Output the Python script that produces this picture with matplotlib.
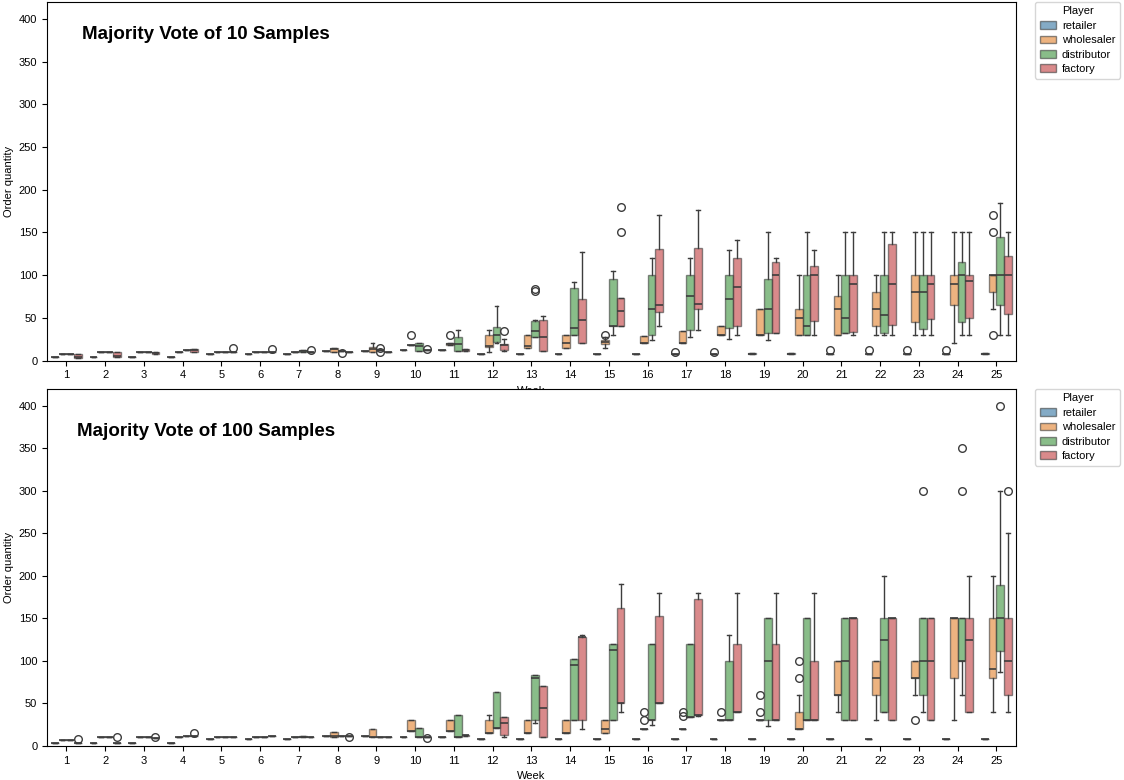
import matplotlib.pyplot as plt
from matplotlib.patches import Patch

plt.rcParams['font.family'] = ['Liberation Sans', 'DejaVu Sans']

weeks = list(range(1, 26))
players = ['retailer', 'wholesaler', 'distributor', 'factory']
colors = ['#3274a1', '#e1812c', '#3a923a', '#c03d3e']
titles = ['Majority Vote of 10 Samples', 'Majority Vote of 100 Samples']

# box stats per week: single value, or (low whisker, q1, median, q3, high whisker)
top_retailer = [4, 4, 4, 4, 8, 8, 8, 11, 11, 12, 12, 8, 8, 8, 8, 8, 8, 8,
                (8, 8, 8, 9, 9), (8, 8, 8, 9, 9), 8, 8, 8, 8, (8, 8, 8, 9, 9)]
top_wholesaler = [8, 10, 10, 10, 10, 10, 10,
                  (10, 10.5, 13, 15, 15), (10, 10.5, 13, 16, 20), 18,
                  (18, 18, 19, 20, 20), (10, 16, 17, 30, 36), (15, 15, 17, 30, 30),
                  (15, 15, 20, 30, 30), (15, 19, 21.5, 24, 27), (20, 20, 20, 29, 29),
                  (20, 20, 20, 34, 34), (30, 30, 30, 40, 40), (30, 30, 30, 60, 60),
                  (30, 30, 50, 60, 100), (30, 30, 60, 75, 100), (30, 40, 60, 80, 100),
                  (30, 45, 80, 100, 150), (20, 65, 90, 100, 150), (60, 80, 100, 100, 100)]
top_distributor = [8, 10, 10, 12, 10, 10, (10, 10, 11, 12, 12), 11, 12,
                   (11, 11, 17, 21, 21), (11, 11, 19.5, 28, 36), (21, 21.5, 30, 38.7, 63.7),
                   (28, 28, 35, 46, 48), (30, 30, 38, 85, 92), (30, 40, 40, 95, 105),
                   (23.5, 30, 60, 100, 120), (28, 36, 75, 100, 120), (25, 38, 72, 100, 130),
                   (23.5, 32, 60, 95, 150), (30, 30, 40, 100, 150), (32, 32, 50, 100, 150),
                   (30, 32, 53, 100, 150), (30, 37, 80, 100, 150), (30, 45, 100, 115, 150),
                   (30, 65, 100, 145, 185)]
top_factory = [(3, 3, 4, 8, 8), (4, 4, 5, 10, 10), (8, 8, 9, 10, 10), (10.5, 10.5, 12, 14, 14),
               10, 10, 10, 10, 10, 12, (11.5, 11.5, 12.5, 13, 13), (11, 12, 18, 19.5, 25),
               (11, 11, 28, 48, 52), (20, 20, 47, 72, 127), (40, 40.5, 57.5, 73, 73),
               (40, 57, 65, 131, 170), (36, 60, 66, 132, 176), (30, 40, 86, 120, 141),
               (32, 32, 100, 115, 120), (30, 46, 100, 111, 130), (30, 33, 90, 100, 150),
               (30, 42, 90, 137, 150), (30, 48.5, 90, 100, 150), (30, 50, 93, 100, 150),
               (30, 54, 100, 123, 150)]

top_fliers_retailer = {17: [10], 18: [10], 21: [12], 22: [12], 23: [12], 24: [12]}
top_fliers_wholesaler = {10: [30], 11: [30], 15: [30], 25: [170, 150, 30]}
top_fliers_distributor = {8: [9], 9: [15, 10], 13: [84, 81]}
top_fliers_factory = {5: [15], 6: [14], 7: [12], 10: [14], 12: [34], 15: [180, 150]}

bot_retailer = [4, 4, 4, 4, 8, 8, 8, 12, 12, 11, 11, 8, 8, 8, 8, 8, 8, 8, 8, 8, 8, 8, 8, 8, 8]
bot_wholesaler = [7, 10, 10, 10, 10, 10, 10, (10, 10, 12, 16, 16), (11, 11, 11, 19.6, 19.6),
                  (18, 18, 18, 30, 30), (18, 18, 18, 30, 30), (15, 15, 15, 30, 36),
                  (15, 15, 15, 30, 30), (15, 15, 15, 30, 30), (15, 15, 20, 30, 30),
                  20, 20, 30, 30, (20, 20, 20, 40, 60), (40, 60, 60, 100, 100),
                  (30, 60, 80, 100, 100), (60, 80, 80, 100, 100), (30, 80, 150, 150, 150),
                  (40, 80, 90, 150, 200)]
bot_distributor = [7, 10, 10, 12, 10, 10, (10, 10, 11, 12, 12), 12, 10,
                   (11, 11, 11, 21, 21), (11, 11, 11, 36, 36), (21, 21, 21, 63.5, 63.5),
                   (27.5, 30, 80, 83.5, 83.5), (30, 30, 95, 102, 102), (30, 30, 112.5, 120, 120),
                   (25, 30, 30, 120, 120), (34, 34, 34, 120, 120), (30, 30, 30, 100, 130),
                   (23.5, 30, 100, 150, 150), (30, 30, 30, 150, 150), (30, 30, 100, 150, 150),
                   (40, 40, 125, 150, 200), (40, 60, 100, 150, 150), (60, 100, 100, 150, 150),
                   (87, 112, 150, 189, 300)]
bot_factory = [4, 4, 9, 12, 10, 12, 10, 12, 10, 11, (12, 12, 13, 13.5, 13.5),
               (11, 13, 27, 34, 34), (11, 11, 45, 70, 70), (20, 30, 128, 128, 130),
               (40, 50, 50, 162, 190), (50, 50, 50, 153, 180), (35, 36, 36, 173, 180),
               (40, 40, 40, 120, 180), (30, 30, 30, 120, 180), (30, 30, 30, 100, 180),
               (30, 30, 150, 150, 150), (30, 30, 150, 150, 150), (30, 30, 100, 150, 150),
               (40, 40, 125, 150, 200), (40, 60, 100, 150, 250)]

bot_fliers_retailer = {}
bot_fliers_wholesaler = {16: [30, 40], 17: [35, 40], 18: [40], 19: [40, 60], 20: [100, 80], 23: [30]}
bot_fliers_distributor = {23: [300], 24: [350, 300], 25: [400]}
bot_fliers_factory = {1: [8], 2: [10], 3: [10], 4: [15], 8: [11], 10: [9], 25: [300]}

panels = [
    ([top_retailer, top_wholesaler, top_distributor, top_factory],
     [top_fliers_retailer, top_fliers_wholesaler, top_fliers_distributor, top_fliers_factory]),
    ([bot_retailer, bot_wholesaler, bot_distributor, bot_factory],
     [bot_fliers_retailer, bot_fliers_wholesaler, bot_fliers_distributor, bot_fliers_factory]),
]


def make_stats(vals, fliers):
    out = []
    for w, v in zip(weeks, vals):
        if not isinstance(v, tuple):
            v = (v,) * 5
        lo, q1, med, q3, hi = v
        out.append(dict(whislo=lo, q1=q1, med=med, q3=q3, whishi=hi,
                        fliers=fliers.get(w, [])))
    return out


line_c = '#3d3d3d'
fig = plt.figure(figsize=(11.24, 7.8), dpi=100)
axes = [fig.add_axes([0.0418, 0.5378, 0.862, 0.4597]),
        fig.add_axes([0.0418, 0.0436, 0.862, 0.4577])]
title_pos = [(0.036, 0.91), (0.031, 0.882)]

for ax, (series, fliers), title, tpos in zip(axes, panels, titles, title_pos):
    for j, (vals, fl, c) in enumerate(zip(series, fliers, colors)):
        pos = [w - 1 + (j - 1.5) * 0.2 for w in weeks]
        ax.bxp(make_stats(vals, fl), positions=pos, widths=0.2, capwidths=0.1,
               patch_artist=True, manage_ticks=False,
               boxprops=dict(facecolor=c, edgecolor=line_c, alpha=0.6, linewidth=1),
               medianprops=dict(color=line_c, linewidth=1.2),
               whiskerprops=dict(color=line_c, linewidth=1),
               capprops=dict(color=line_c, linewidth=1),
               flierprops=dict(marker='o', markerfacecolor='none',
                               markeredgecolor=line_c, markersize=5.5))
    ax.set_xticks(range(len(weeks)))
    ax.set_xticklabels(weeks)
    ax.set_xlim(-0.5, 24.5)
    ax.set_ylim(0, 420)
    ax.set_yticks(range(0, 401, 50))
    ax.tick_params(labelsize=8)
    ax.set_xlabel('Week', fontsize=8)
    ax.set_ylabel('Order quantity', fontsize=8)
    ax.yaxis.set_label_coords(-0.034, 0.5)
    ax.text(tpos[0], tpos[1], title, transform=ax.transAxes, fontsize=13.5,
            fontweight='bold', va='center')
    handles = [Patch(facecolor=c, edgecolor=line_c, alpha=0.6, label=p)
               for p, c in zip(players, colors)]
    ax.legend(handles=handles, title='Player', loc='upper left',
              bbox_to_anchor=(1.02, 1), borderaxespad=0, fontsize=8,
              title_fontsize=8, handlelength=1.5, handletextpad=0.5,
              labelspacing=0.4, borderpad=0.4)

plt.savefig('out.png', dpi=100)
